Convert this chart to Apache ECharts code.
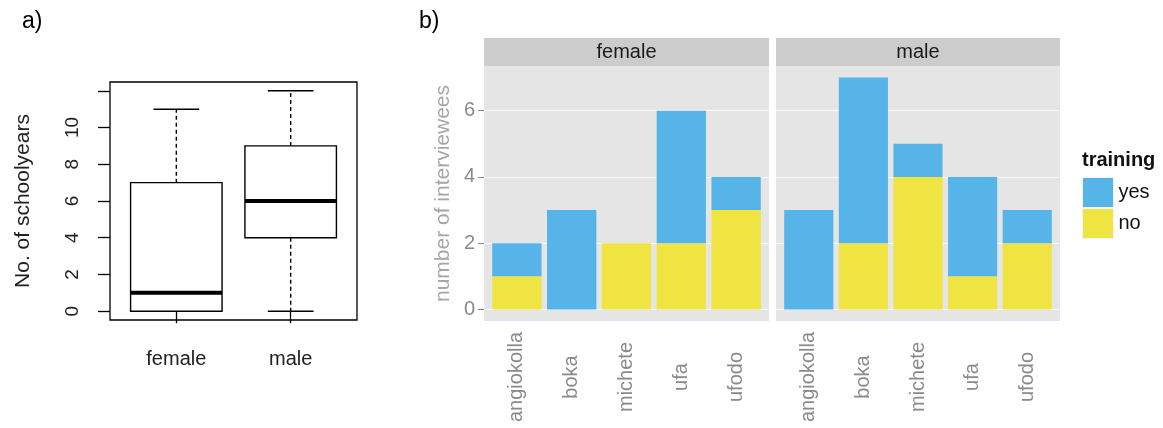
<!DOCTYPE html>
<html>
<head>
<meta charset="utf-8">
<script src="https://cdn.jsdelivr.net/npm/echarts@6/dist/echarts.min.js"></script>
<style>
  html, body { margin: 0; padding: 0; background: #fff; }
  #chart { width: 1163px; height: 428px; }
</style>
</head>
<body>
<div id="chart"></div>
<script>
// a) years of schooling by sex: [min, Q1, median, Q3, max]
const sexes = ['female', 'male'];
const schoolFemale = [0, 0, 1, 7, 11];
const schoolMale = [0, 4, 6, 9, 12];
const schoolTicks = [0, 2, 4, 6, 8, 10, 12];
const schoolTickLabels = [0, 2, 4, 6, 8, 10];

// b) number of interviewees per village, split by training
const villages = ['angiokolla', 'boka', 'michete', 'ufa', 'ufodo'];
const femaleNo = [1, 0, 2, 2, 3];
const femaleYes = [1, 3, 0, 4, 1];
const maleNo = [0, 2, 4, 1, 2];
const maleYes = [3, 5, 1, 3, 1];
const countTicks = [0, 2, 4, 6];

const BLUE = '#56B4E9';
const YELLOW = '#F0E442';
const FONT = 'Liberation Sans, Arial, sans-serif';
const GREY_TEXT = '#8a8a8a';

// facet geometry (ggplot-like discrete expansion of 0.6 units each side)
const panelTop = 66, panelH = 255;
const femaleLeft = 484, femaleW = 285;
const maleLeft = 776, maleW = 284;
const inset = w => w * 0.1 / 5.2;

const chart = echarts.init(document.getElementById('chart'));

function renderBox(params, api) {
  const x = api.value(0);
  const mn = api.value(1), q1 = api.value(2), md = api.value(3), q3 = api.value(4), mx = api.value(5);
  const cx = api.coord([x, 0])[0];
  const y = v => api.coord([x, v])[1];
  const halfBox = api.size([0.8, 0])[0] / 2;
  const halfCap = api.size([0.4, 0])[0] / 2;
  const solid = { stroke: '#000', lineWidth: 1.4, fill: null };
  const dashed = { stroke: '#000', lineWidth: 1.4, lineDash: [4, 3], fill: null };
  return {
    type: 'group',
    children: [
      { type: 'line', shape: { x1: cx, y1: y(q3), x2: cx, y2: y(mx) }, style: dashed },
      { type: 'line', shape: { x1: cx, y1: y(q1), x2: cx, y2: y(mn) }, style: dashed },
      { type: 'line', shape: { x1: cx - halfCap, y1: y(mx), x2: cx + halfCap, y2: y(mx) }, style: solid },
      { type: 'line', shape: { x1: cx - halfCap, y1: y(mn), x2: cx + halfCap, y2: y(mn) }, style: solid },
      { type: 'rect', shape: { x: cx - halfBox, y: y(q3), width: 2 * halfBox, height: y(q1) - y(q3) },
        style: { stroke: '#000', lineWidth: 1.4, fill: '#fff' } },
      { type: 'line', shape: { x1: cx - halfBox, y1: y(md), x2: cx + halfBox, y2: y(md) },
        style: { stroke: '#000', lineWidth: 4 } }
    ]
  };
}

function barSeries(name, data, axis, stack, color) {
  return {
    type: 'bar', name: name, data: data, stack: stack,
    xAxisIndex: axis, yAxisIndex: axis,
    barCategoryGap: '10%',
    itemStyle: { color: color },
    emphasis: { disabled: true },
    silent: true
  };
}

function villageAxis(gridIndex) {
  return {
    gridIndex: gridIndex, type: 'category', data: villages,
    axisLine: { show: false },
    axisTick: { alignWithLabel: true, length: 5, lineStyle: { color: GREY_TEXT } },
    axisLabel: { rotate: 90, fontSize: 20, color: GREY_TEXT, margin: 56, align: 'center', verticalAlign: 'middle' }
  };
}

function strip(x, w, label) {
  return {
    type: 'group',
    children: [
      { type: 'rect', shape: { x: x, y: 38, width: w, height: 28 }, style: { fill: '#CCCCCC' } },
      { type: 'text', x: x + w / 2, y: 52,
        style: { text: label, font: '20px ' + FONT, fill: '#1a1a1a', align: 'center', verticalAlign: 'middle' } }
    ]
  };
}

const option = {
  animation: false,
  backgroundColor: '#fff',
  textStyle: { fontFamily: FONT },
  grid: [
    { left: 110, top: 82, width: 247, height: 238, show: true, borderColor: '#000', borderWidth: 1.3, backgroundColor: 'transparent' },
    { left: femaleLeft, top: panelTop, width: femaleW, height: panelH, show: true, backgroundColor: '#E5E5E5', borderWidth: 0 },
    { left: maleLeft, top: panelTop, width: maleW, height: panelH, show: true, backgroundColor: '#E5E5E5', borderWidth: 0 },
    { left: femaleLeft + inset(femaleW), top: panelTop, width: femaleW * 5 / 5.2, height: panelH },
    { left: maleLeft + inset(maleW), top: panelTop, width: maleW * 5 / 5.2, height: panelH }
  ],
  xAxis: [
    {
      gridIndex: 0, type: 'value', min: 0.42, max: 2.58,
      axisLine: { show: false }, splitLine: { show: false },
      axisTick: { customValues: [1, 2], length: 12, lineStyle: { color: '#000', width: 1.3 } },
      axisLabel: { customValues: [1, 2], formatter: v => sexes[Math.round(v) - 1], fontSize: 20, color: '#222', margin: 29 }
    },
    { gridIndex: 1, type: 'value', min: 0, max: 1, show: false },
    { gridIndex: 2, type: 'value', min: 0, max: 1, show: false },
    villageAxis(3),
    villageAxis(4)
  ],
  yAxis: [
    {
      gridIndex: 0, type: 'value', min: -0.48, max: 12.48,
      axisLine: { show: false }, splitLine: { show: false },
      axisTick: { customValues: schoolTicks, length: 12, lineStyle: { color: '#000', width: 1.3 } },
      axisLabel: { customValues: schoolTickLabels, rotate: 90, fontSize: 19, color: '#222', margin: 28 },
      name: 'No. of schoolyears', nameLocation: 'middle', nameGap: 76, nameRotate: 90,
      nameTextStyle: { fontSize: 21, color: '#222' }
    },
    {
      gridIndex: 1, type: 'value', min: -0.35, max: 7.35,
      axisLine: { show: false },
      axisTick: { customValues: countTicks, length: 6, lineStyle: { color: GREY_TEXT } },
      axisLabel: { customValues: countTicks, fontSize: 20, color: GREY_TEXT, margin: 9 },
      splitLine: { show: true, lineStyle: { color: '#fafafa', width: 1.2 } },
      name: 'number of interviewees', nameLocation: 'middle', nameGap: 30, nameRotate: 90,
      nameTextStyle: { fontSize: 21, color: '#a6a6a6' }
    },
    {
      gridIndex: 2, type: 'value', min: -0.35, max: 7.35,
      axisLine: { show: false },
      axisTick: { show: false, customValues: countTicks },
      axisLabel: { show: false, customValues: countTicks },
      splitLine: { show: true, lineStyle: { color: '#fafafa', width: 1.2 } }
    },
    { gridIndex: 3, type: 'value', min: -0.35, max: 7.35, show: false },
    { gridIndex: 4, type: 'value', min: -0.35, max: 7.35, show: false }
  ],
  legend: {
    orient: 'vertical', left: 1082, top: 177, padding: 0,
    data: ['yes', 'no'], icon: 'rect', itemWidth: 31, itemHeight: 30, itemGap: 0,
    selectedMode: false,
    itemStyle: { borderColor: '#f4f4f4', borderWidth: 1 },
    textStyle: { fontSize: 20, color: '#111', fontFamily: FONT }
  },
  graphic: [
    { type: 'text', left: 22, top: 10, style: { text: 'a)', font: '23px ' + FONT, fill: '#000' } },
    { type: 'text', left: 419, top: 10, style: { text: 'b)', font: '23px ' + FONT, fill: '#000' } },
    strip(femaleLeft, femaleW, 'female'),
    strip(maleLeft, maleW, 'male'),
    { type: 'text', left: 1082, top: 150, style: { text: 'training', font: 'bold 20px ' + FONT, fill: '#111' } }
  ],
  series: [
    {
      type: 'custom', xAxisIndex: 0, yAxisIndex: 0,
      renderItem: renderBox,
      encode: { x: 0, y: [1, 2, 3, 4, 5] },
      data: [[1].concat(schoolFemale), [2].concat(schoolMale)],
      silent: true
    },
    barSeries('no', femaleNo, 3, 'female', YELLOW),
    barSeries('yes', femaleYes, 3, 'female', BLUE),
    barSeries('no', maleNo, 4, 'male', YELLOW),
    barSeries('yes', maleYes, 4, 'male', BLUE)
  ]
};

chart.setOption(option);
</script>
</body>
</html>
